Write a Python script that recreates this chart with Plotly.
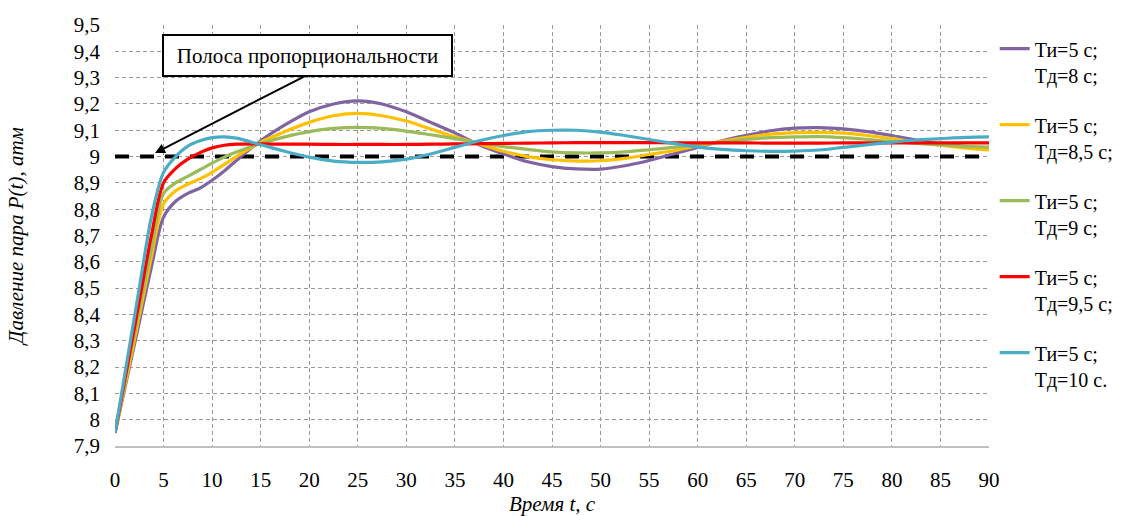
import plotly.graph_objects as go

# Time axis, s
t = [0, 1.25, 2.5, 3.75, 5, 6.25, 7.5, 8.75, 10, 11.25, 12.5, 15, 17.5, 20, 22.5, 25, 27.5, 30,
     32.5, 35, 37.5, 40, 42.5, 45, 47.5, 50, 52.5, 55, 57.5, 60, 62.5, 65, 67.5, 70, 72.5,
     75, 77.5, 80, 82.5, 85, 87.5, 90]

# Pressure P(t), atm for each setting
p_td8 = [7.95, 8.16, 8.37, 8.58, 8.77, 8.83, 8.86, 8.88, 8.91, 8.945, 8.985, 9.06, 9.12, 9.17,
         9.20, 9.212, 9.20, 9.17, 9.13, 9.09, 9.045, 9.01, 8.98, 8.962, 8.953, 8.952, 8.965,
         8.985, 9.01, 9.035, 9.06, 9.08, 9.098, 9.108, 9.11, 9.105, 9.095, 9.08, 9.063, 9.048,
         9.038, 9.03]
p_td85 = [7.95, 8.17, 8.395, 8.62, 8.82, 8.87, 8.895, 8.915, 8.94, 8.97, 9.0, 9.055, 9.095,
          9.13, 9.155, 9.164, 9.155, 9.135, 9.105, 9.075, 9.048, 9.02, 9.0, 8.988, 8.983,
          8.984, 8.993, 9.008, 9.022, 9.04, 9.058, 9.073, 9.085, 9.091, 9.092, 9.089, 9.08,
          9.068, 9.055, 9.043, 9.033, 9.025]
p_td9 = [7.95, 8.19, 8.42, 8.65, 8.86, 8.9, 8.925, 8.95, 8.975, 8.998, 9.017, 9.05, 9.075,
         9.095, 9.107, 9.111, 9.107, 9.097, 9.083, 9.068, 9.052, 9.038, 9.027, 9.018, 9.014,
         9.014, 9.018, 9.026, 9.035, 9.045, 9.055, 9.065, 9.072, 9.075, 9.076, 9.072, 9.065,
         9.057, 9.05, 9.044, 9.039, 9.036]
p_td95 = [7.95, 8.2, 8.45, 8.7, 8.9, 8.955, 8.99, 9.015, 9.033, 9.043, 9.047, 9.048, 9.047,
          9.047, 9.046, 9.046, 9.046, 9.046, 9.047, 9.048, 9.049, 9.05, 9.051, 9.052, 9.053,
          9.053, 9.053, 9.053, 9.052, 9.052, 9.052, 9.052, 9.051, 9.051, 9.051, 9.052, 9.052,
          9.052, 9.052, 9.052, 9.052, 9.052]
p_td10 = [7.95, 8.225, 8.5, 8.77, 8.94, 9.0, 9.04, 9.06, 9.072, 9.075, 9.07, 9.045, 9.02,
          8.998, 8.983, 8.978, 8.98, 8.99, 9.01, 9.035, 9.06, 9.08, 9.095, 9.1, 9.1, 9.093,
          9.08, 9.065, 9.05, 9.036, 9.027, 9.022, 9.02, 9.021, 9.025, 9.035, 9.045, 9.055,
          9.063, 9.068, 9.073, 9.075]

series_names = ["Ти=5 с;<br>Тд=8 с;", "Ти=5 с;<br>Тд=8,5 с;", "Ти=5 с;<br>Тд=9 с;",
                "Ти=5 с;<br>Тд=9,5 с;", "Ти=5 с;<br>Тд=10 с."]
series_values = [p_td8, p_td85, p_td9, p_td95, p_td10]
series_colors = ["#8064A2", "#FFC000", "#9BBB59", "#FF0000", "#4BACC6"]

setpoint_t = [0, 90]
setpoint_p = [9.0, 9.0]

annotation_text = "Полоса пропорциональности"

FONT = "Liberation Serif, Times New Roman, serif"
FS = 21

fig = go.Figure()

fig.add_trace(go.Scatter(x=setpoint_t, y=setpoint_p, mode="lines",
                         line=dict(color="black", width=4, dash="14px,11px"),
                         showlegend=False, hoverinfo="skip"))

for i, (name, vals, col) in enumerate(zip(series_names, series_values, series_colors)):
    fig.add_trace(go.Scatter(x=t, y=vals, mode="lines", name=name, legendgroup=f"g{i}",
                             line=dict(color=col, width=3.2, shape="spline", smoothing=0.9)))

grid = dict(showgrid=True, gridcolor="#9a9a9a", gridwidth=1, griddash="4px,3px")

fig.update_layout(
    width=1133, height=516,
    margin=dict(l=115, r=144, t=25, b=70, autoexpand=False),
    paper_bgcolor="white", plot_bgcolor="white",
    separators=", ",
    font=dict(family=FONT, size=FS, color="black"),
    legend=dict(x=1.0065, xanchor="left", y=0.99, yanchor="top",
                traceorder="grouped", tracegroupgap=21, valign="top",
                font=dict(family=FONT, size=20, color="black"),
                itemwidth=30),
    xaxis=dict(range=[0, 90], dtick=5, tick0=0, zeroline=False, automargin=False,
               showline=True, linecolor="#bfbfbf", linewidth=2,
               ticks="", ticklabelstandoff=14,
               title=dict(text="<i>Время t, с</i>", font=dict(family=FONT, size=FS), standoff=10),
               **grid),
    yaxis=dict(range=[7.9, 9.5], dtick=0.1, tick0=7.9, zeroline=False, automargin=False,
               showline=False, ticks="", ticklabelstandoff=14,
               title=dict(text="<i>Давление пара P(t), атм</i>", font=dict(family=FONT, size=FS),
                          standoff=44),
               **grid),
    showlegend=True,
)

fig.add_annotation(x=19.82, y=9.384, xref="x", yref="y", text=annotation_text,
                   showarrow=False, font=dict(family=FONT, size=FS, color="black"),
                   bgcolor="white", bordercolor="black", borderwidth=2, borderpad=6,
                   width=275, height=27)
fig.add_annotation(x=4.12, y=9.0135, xref="x", yref="y", ax=19.57, ay=9.306,
                   axref="x", ayref="y", text="", showarrow=True, arrowhead=2,
                   arrowsize=1, arrowwidth=2, arrowcolor="black")

fig.write_html("out.html")
